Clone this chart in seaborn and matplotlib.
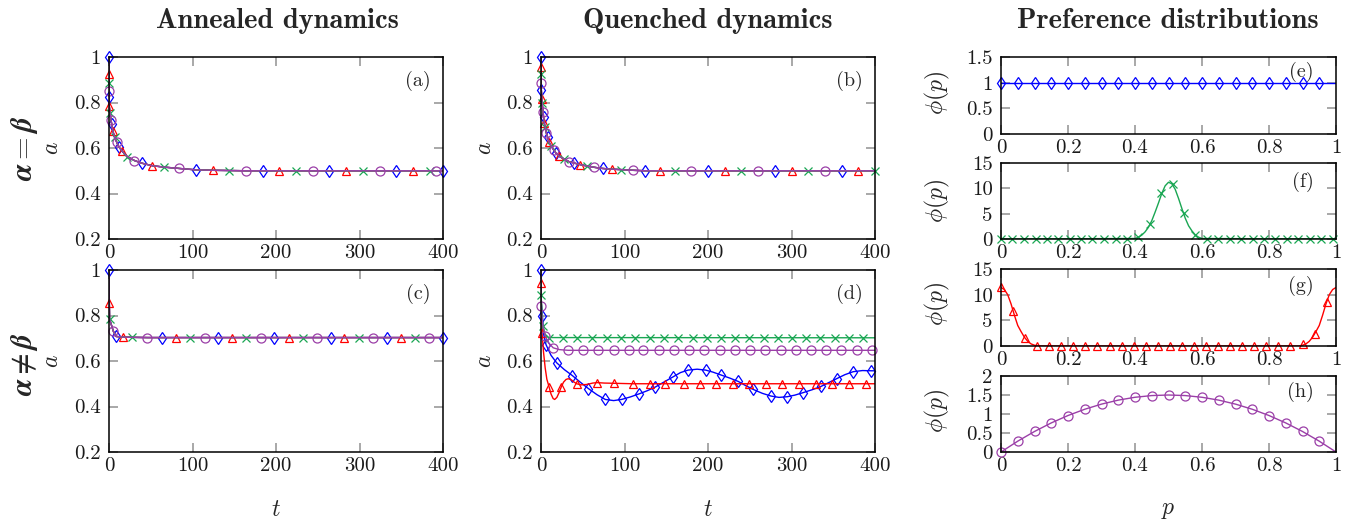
import numpy as np
import matplotlib
matplotlib.use("Agg")
import matplotlib.pyplot as plt
import seaborn as sns

sns.set_theme(style="ticks")
plt.rcParams["font.family"] = ["cmr10", "DejaVu Serif"]
plt.rcParams["mathtext.fontset"] = "cm"
plt.rcParams["axes.formatter.use_mathtext"] = True

# colours / markers of the four preference distributions
c_blue, c_red, c_green, c_purple = "#0000ff", "#ff0000", "#1aa653", "#9b3fa8"
series_colors = [c_blue, c_red, c_green, c_purple]
series_markers = ["d", "^", "x", "o"]

# ---- (a) annealed, alpha = beta : one curve, marks cycle blue/red/green/purple
t_a = [0, 0, 0, 0, 0.1, 0.3, 1.2, 2.4, 3.2, 4.6, 6.6, 9.2, 12, 16, 22, 30.4, 39.6,
       52, 66, 84.4, 104, 124, 144, 164, 184, 204, 224, 244, 264, 284, 304, 324,
       344, 364, 384, 392, 400]
a_a = [1.0, 0.925, 0.887, 0.852, 0.826, 0.785, 0.756, 0.724, 0.706, 0.676, 0.648,
       0.626, 0.604, 0.585, 0.562, 0.545, 0.533, 0.522, 0.516, 0.51, 0.504, 0.502,
       0.501, 0.5, 0.5, 0.5, 0.5, 0.5, 0.5, 0.5, 0.5, 0.5, 0.5, 0.5, 0.5, 0.5, 0.5]

# ---- (b) quenched, alpha = beta
t_b = [0, 0, 0, 0, 0.4, 1.0, 1.4, 2.6, 3.0, 3.8, 5, 6.4, 8, 9.6, 12, 15, 18, 22,
       27.5, 33.5, 39.5, 47, 55, 64, 74, 84.5, 96, 110, 125, 142, 160, 180, 200,
       220, 240, 260, 280, 300, 320, 340, 360, 380, 400]
a_b = [1.0, 0.958, 0.925, 0.884, 0.855, 0.816, 0.797, 0.757, 0.738, 0.711, 0.692,
       0.666, 0.647, 0.626, 0.61, 0.593, 0.577, 0.563, 0.552, 0.54, 0.534, 0.527,
       0.521, 0.515, 0.51, 0.507, 0.505, 0.502, 0.5, 0.5, 0.5, 0.5, 0.5, 0.5, 0.5,
       0.5, 0.5, 0.5, 0.5, 0.5, 0.5, 0.5, 0.5]

# ---- (c) annealed, alpha != beta
t_c = [0, 0.4, 0.7, 5.2, 8.4, 16.8, 28, 46, 64, 80.3, 97.5, 114.7, 131, 147.5,
       164.6, 181.8, 197.8, 215.4, 231.8, 248.6, 265.7, 282, 299.3, 316, 332.9,
       350, 366.4, 383.6, 400]
a_c = [1.0, 0.857, 0.784, 0.731, 0.708, 0.705, 0.704, 0.703, 0.703, 0.703, 0.703,
       0.703, 0.703, 0.703, 0.703, 0.703, 0.703, 0.703, 0.703, 0.703, 0.703, 0.703,
       0.703, 0.703, 0.703, 0.703, 0.703, 0.703, 0.703]

# ---- (d) quenched, alpha != beta : four different curves
t_d_blue = [0, 0.3, 1.6, 3, 6, 12, 18.8, 28, 37.5, 47, 56.7, 67, 77, 87, 96.5, 107,
            117.8, 127, 136.2, 147, 158.5, 167, 176.1, 187, 197.2, 206, 215.2, 226,
            236.3, 245, 254.2, 265, 275.4, 285, 294.9, 304, 314, 325, 335.2, 344,
            353.9, 364, 373.9, 385, 395.8, 400]
a_d_blue = [1.0, 0.86, 0.80, 0.72, 0.672, 0.625, 0.592, 0.562, 0.536, 0.507, 0.479,
            0.452, 0.431, 0.426, 0.431, 0.442, 0.456, 0.469, 0.484, 0.507, 0.531,
            0.549, 0.560, 0.564, 0.560, 0.551, 0.539, 0.525, 0.510, 0.492, 0.475,
            0.458, 0.446, 0.440, 0.443, 0.450, 0.461, 0.474, 0.488, 0.504, 0.522,
            0.540, 0.553, 0.558, 0.557, 0.557]
tm_d_blue = [0, 1.6, 6, 18.8, 37.5, 56.7, 77, 96.5, 117.8, 136.2, 158.5, 176.1,
             197.2, 215.2, 236.3, 254.2, 275.4, 294.9, 314, 335.2, 353.9, 373.9, 395.8]
am_d_blue = [1.0, 0.80, 0.672, 0.592, 0.536, 0.479, 0.431, 0.431, 0.456, 0.484,
             0.531, 0.560, 0.560, 0.539, 0.510, 0.475, 0.446, 0.443, 0.461, 0.488,
             0.522, 0.553, 0.557]

t_d_red = [0, 0, 1.2, 3, 5, 7, 9.6, 12, 14.5, 16.4, 19, 21.5, 24.4, 27, 30, 32.5, 36,
           39, 42.7, 48, 55, 62, 67, 76, 88, 110, 400]
a_d_red = [1.0, 0.943, 0.725, 0.64, 0.57, 0.52, 0.487, 0.455, 0.435, 0.431, 0.44,
           0.46, 0.487, 0.507, 0.519, 0.522, 0.518, 0.509, 0.50, 0.495, 0.497, 0.503,
           0.505, 0.503, 0.502, 0.5, 0.5]
tm_d_red = [0, 1.2, 9.6, 24.4, 42.7, 67, 88, 109.7, 130.5, 149, 171, 190, 209.3,
            229.7, 249, 269, 289, 309, 329, 349, 368.4, 389]
am_d_red = [0.943, 0.725, 0.487, 0.487, 0.50, 0.505, 0.502, 0.5, 0.5, 0.5, 0.5, 0.5,
            0.5, 0.5, 0.5, 0.5, 0.5, 0.5, 0.5, 0.5, 0.5, 0.5]

t_d_green = [0, 0, 2.4, 5, 9, 400]
a_d_green = [1.0, 0.889, 0.753, 0.715, 0.703, 0.702]
tm_d_green = [0, 2.4, 9, 26, 43.5, 61, 78.5, 96, 113, 130, 147, 164, 181.5, 198.5,
              215.5, 232.5, 249.5, 266.5, 283.5, 300.5, 317.5, 334.5, 351.5, 368.5,
              385.5]
am_d_green = [0.889, 0.753, 0.703] + [0.702] * 22

t_d_purple = [0, 0, 2, 5.2, 9, 14.6, 22, 32.4, 400]
a_d_purple = [1.0, 0.842, 0.76, 0.71, 0.68, 0.658, 0.65, 0.647, 0.647]
tm_d_purple = [0, 5.2, 14.6, 32.4, 50.3, 68, 87, 105, 122, 141, 159, 177, 195, 214,
               232, 250, 268, 287, 305, 323, 341, 359, 378, 396]
am_d_purple = [0.842, 0.71, 0.658] + [0.647] * 21

# ---- preference distributions phi(p)
p_e_line = [0, 1]
phi_e_line = [1.0, 1.0]
p_e = [0, 0.05, 0.1, 0.15, 0.2, 0.25, 0.3, 0.35, 0.4, 0.45, 0.5, 0.55, 0.6, 0.65,
       0.7, 0.75, 0.8, 0.85, 0.9, 0.95]
phi_e = [1.0] * 20

p_f_line = [0, 0.4, 0.41, 0.42, 0.43, 0.44, 0.45, 0.46, 0.47, 0.48, 0.49, 0.5, 0.51,
            0.52, 0.53, 0.54, 0.55, 0.56, 0.57, 0.58, 0.59, 0.6, 1.0]
phi_f_line = [0, 0.1, 0.35, 0.75, 1.4, 2.3, 3.6, 5.3, 7.1, 9.0, 10.5, 11.2, 10.9, 9.8,
              8.0, 6.0, 4.1, 2.6, 1.6, 0.8, 0.35, 0.1, 0]
p_f = [0, 0.034, 0.068, 0.103, 0.137, 0.171, 0.205, 0.239, 0.273, 0.308, 0.342,
       0.376, 0.41, 0.444, 0.478, 0.512, 0.546, 0.58, 0.614, 0.648, 0.683, 0.717,
       0.751, 0.785, 0.819, 0.853, 0.887, 0.922, 0.956, 0.99]
phi_f = [0] * 12 + [0.34, 2.9, 9.0, 10.8, 5.1, 0.85] + [0] * 12

p_g_line = [0, 0.01, 0.02, 0.03, 0.04, 0.05, 0.06, 0.07, 0.08, 0.09, 0.1, 0.11, 0.89,
            0.9, 0.91, 0.92, 0.93, 0.94, 0.95, 0.96, 0.97, 0.98, 0.99, 1.0]
phi_g_line = [11.4, 11.0, 10.0, 8.2, 6.0, 4.0, 2.8, 1.7, 0.9, 0.4, 0.15, 0, 0, 0.15,
              0.4, 0.9, 1.7, 2.8, 4.0, 6.0, 8.2, 10.0, 11.0, 11.4]
p_g = [0, 0.036, 0.072, 0.108, 0.144, 0.18, 0.216, 0.252, 0.288, 0.324, 0.36, 0.396,
       0.432, 0.468, 0.504, 0.54, 0.576, 0.612, 0.648, 0.684, 0.72, 0.756, 0.792,
       0.828, 0.864, 0.9, 0.936, 0.972]
phi_g = [11.4, 6.8, 1.5, 0.05] + [0] * 21 + [0.3, 2.4, 8.6]

p_h = [0, 0.05, 0.1, 0.15, 0.2, 0.25, 0.3, 0.35, 0.4, 0.45, 0.5, 0.55, 0.6, 0.65,
       0.7, 0.75, 0.8, 0.85, 0.9, 0.95]
phi_h = [0, 0.285, 0.54, 0.765, 0.96, 1.125, 1.26, 1.365, 1.44, 1.485, 1.5, 1.485,
         1.44, 1.365, 1.26, 1.125, 0.96, 0.765, 0.54, 0.285]
p_h_line = p_h + [1.0]
phi_h_line = phi_h + [0]

W, H = 1346, 519
fig = plt.figure(figsize=(W / 100, H / 100), dpi=100)


def rect(l, r, t, b):
    return [l / W, 1 - b / H, (r - l) / W, (b - t) / H]


def style_axes(ax, xt, xl, yt, yl, xlim, ylim):
    ax.set_xlim(*xlim)
    ax.set_ylim(*ylim)
    ax.set_xticks(xt, xl)
    ax.set_yticks(yt, yl)
    ax.tick_params(direction="in", top=True, right=True, length=6.5, width=1.2,
                   color="0.6", labelsize=15, labelcolor="#1a1a1a")
    ax.tick_params(axis="y", pad=6)
    ax.tick_params(axis="x", pad=4)
    for s in ax.spines.values():
        s.set_linewidth(1.1)
        s.set_color("black")
    ax.set_xlabel("")
    ax.set_ylabel("")


def draw(ax, tl, yl, tm, ym, color, marker, z):
    sns.lineplot(x=tl, y=yl, ax=ax, color=color, lw=1.0, estimator=None,
                 sort=False, zorder=z)
    ms = {"x": 5.5, "^": 5.8, "d": 6.5, "o": 6.5}[marker]
    sns.lineplot(x=tm, y=ym, ax=ax, color=color, marker=marker, ms=ms,
                 mfc="none", mec=color, mew=0.9, linestyle="none",
                 estimator=None, sort=False, zorder=z + 0.01, clip_on=False)


t_ticks = [0, 100, 200, 300, 400]
t_lab = ["0", "100", "200", "300", "400"]
a_ticks = [0.2, 0.4, 0.6, 0.8, 1.0]
a_lab = ["0.2", "0.4", "0.6", "0.8", "1"]

ax_a = fig.add_axes(rect(109, 443, 57, 239))
ax_b = fig.add_axes(rect(541, 875, 57, 239))
ax_c = fig.add_axes(rect(109, 443, 270, 452))
ax_d = fig.add_axes(rect(541, 875, 270, 452))

for ax, t, a in [(ax_a, t_a, a_a), (ax_b, t_b, a_b), (ax_c, t_c, a_c)]:
    for k in range(4):
        draw(ax, t, a, t[k::4], a[k::4], series_colors[k], series_markers[k], 2 + k * 0.1)

draw(ax_d, t_d_blue, a_d_blue, tm_d_blue, am_d_blue, c_blue, "d", 2.0)
draw(ax_d, t_d_red, a_d_red, tm_d_red, am_d_red, c_red, "^", 2.1)
draw(ax_d, t_d_green, a_d_green, tm_d_green, am_d_green, c_green, "x", 2.2)
draw(ax_d, t_d_purple, a_d_purple, tm_d_purple, am_d_purple, c_purple, "o", 2.3)

for ax in [ax_a, ax_b, ax_c, ax_d]:
    style_axes(ax, t_ticks, t_lab, a_ticks, a_lab, (0, 400), (0.2, 1.0))

p_ticks = [0, 0.2, 0.4, 0.6, 0.8, 1.0]
p_lab = ["0", "0.2", "0.4", "0.6", "0.8", "1"]

ax_e = fig.add_axes(rect(1001, 1336, 57, 134))
ax_f = fig.add_axes(rect(1001, 1336, 163, 239))
ax_g = fig.add_axes(rect(1001, 1336, 269, 346))
ax_h = fig.add_axes(rect(1001, 1336, 376, 452))

draw(ax_e, p_e_line, phi_e_line, p_e, phi_e, c_blue, "d", 2)
draw(ax_f, p_f_line, phi_f_line, p_f, phi_f, c_green, "x", 2)
draw(ax_g, p_g_line, phi_g_line, p_g, phi_g, c_red, "^", 2)
draw(ax_h, p_h_line, phi_h_line, p_h, phi_h, c_purple, "o", 2)

style_axes(ax_e, p_ticks, p_lab, [0, 0.5, 1, 1.5], ["0", "0.5", "1", "1.5"], (0, 1), (0, 1.5))
style_axes(ax_f, p_ticks, p_lab, [0, 5, 10, 15], ["0", "5", "10", "15"], (0, 1), (0, 15))
style_axes(ax_g, p_ticks, p_lab, [0, 5, 10, 15], ["0", "5", "10", "15"], (0, 1), (0, 15))
style_axes(ax_h, p_ticks, p_lab, [0, 0.5, 1, 1.5, 2], ["0", "0.5", "1", "1.5", "2"], (0, 1), (0, 2))


def ftext(x, y, s, **kw):
    fig.text(x / W, 1 - y / H, s, **kw)


# panel tags
for x, y, s in [(431, 81, "(a)"), (863, 81, "(b)"), (431, 294, "(c)"), (863, 294, "(d)"),
                (1314, 71.5, "(e)"), (1314, 181.7, "(f)"), (1314, 286, "(g)"), (1314, 391.7, "(h)")]:
    ftext(x, y, s, ha="right", va="center", fontsize=14.5)

# column titles
for x, s in [(277, "Annealed dynamics"), (708, "Quenched dynamics"),
             (1168, "Preference distributions")]:
    ftext(x, 28, s, ha="center", va="baseline", fontsize=20.5, family="cmb10")

# axis labels
for x, y in [(52, 148), (485, 148), (52, 361), (485, 361)]:
    ftext(x, y, r"$a$", ha="center", va="center", rotation=90, fontsize=17)
for y in [93, 201, 304, 411]:
    ftext(937, y, r"$\phi(p)$", ha="center", va="center", rotation=90, fontsize=17)
ftext(276, 510, r"$t$", ha="center", va="center", fontsize=17)
ftext(708, 510, r"$t$", ha="center", va="center", fontsize=17)
ftext(1168, 510, r"$p$", ha="center", va="center", fontsize=17)

# row labels
ftext(25, 148, r"$\boldsymbol{\alpha = \beta}$", ha="center", va="center",
      rotation=90, fontsize=21)
ftext(25, 364, r"$\boldsymbol{\alpha \neq \beta}$", ha="center", va="center",
      rotation=90, fontsize=21)

fig.savefig("out.png", dpi=100)
